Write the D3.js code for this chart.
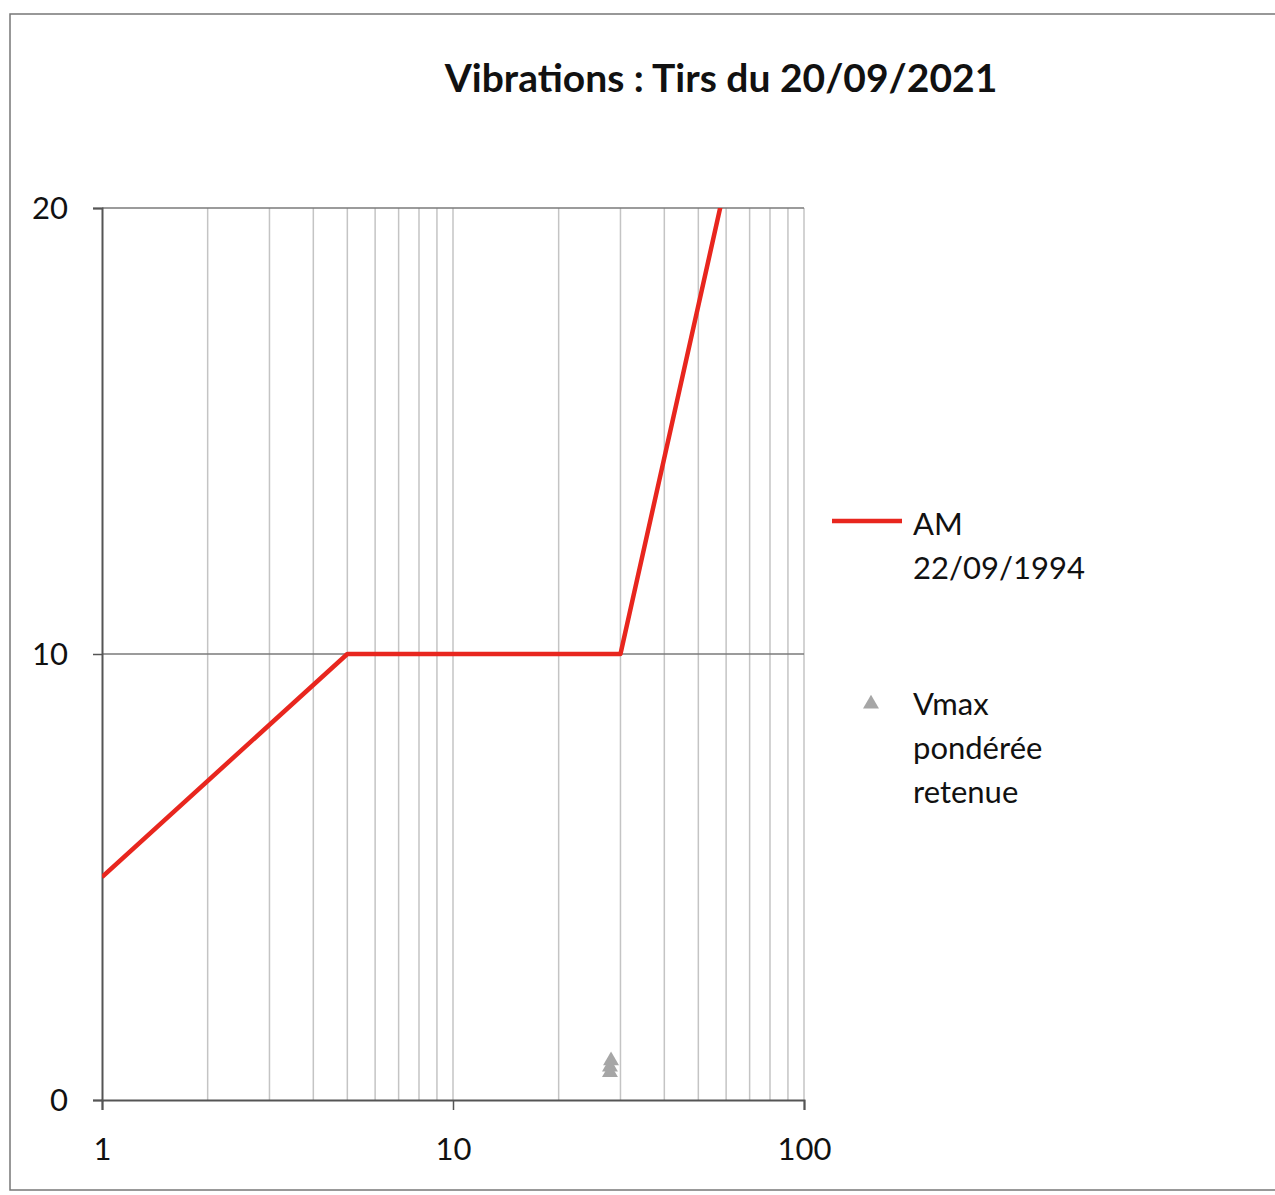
<!DOCTYPE html>
<html>
<head>
<meta charset="utf-8">
<script src="https://cdn.jsdelivr.net/npm/d3@7"></script>
<style>
  body { margin: 0; background: #fff; }
  text { font-family: Lato, "Open Sans", sans-serif; fill: #111; }
</style>
</head>
<body>
<svg id="chart" width="1275" height="1195"></svg>
<script>
// AM 22/09/1994 threshold curve
var amFreq = [1, 5, 30, 80];
var amVel = [5, 10, 10, 25];
// measured Vmax ponderee
var vmaxFreq = [28, 28, 28.2];
var vmaxVel = [0.62, 0.74, 0.88];
var xTicks = [1, 10, 100];
var yTicks = [0, 10, 20];
var legendLabels = [["AM", "22/09/1994"], ["Vmax", "pondérée", "retenue"]];

var
  plotLeft = 102,
  plotRight = 804,
  plotTop = 208,
  plotBottom = 1100,
  red = "#e8261e",
  grey = "#a6a6a6";

var svg = d3.select("#chart");

var x = d3.scaleLog().domain([1, 100]).range([plotLeft, plotRight]);
var y = d3.scaleLinear().domain([0, 20]).range([plotBottom, plotTop]);

// outer frame
svg.append("rect")
  .attr("x", 10).attr("y", 14)
  .attr("width", 1300).attr("height", 1176)
  .attr("fill", "none")
  .attr("stroke", "#777")
  .attr("stroke-width", 1.5);

svg.append("text")
  .attr("x", 721).attr("y", 92)
  .attr("text-anchor", "middle")
  .attr("font-size", 39)
  .attr("font-weight", "bold")
  .text("Vibrations : Tirs du 20/09/2021");

// vertical grid (log minor lines)
var minor = x.ticks().filter(function (d) { return d > 1; });
svg.append("g")
  .selectAll("line")
  .data(minor).enter()
  .append("line")
  .attr("x1", function (d) { return x(d); })
  .attr("x2", function (d) { return x(d); })
  .attr("y1", plotTop).attr("y2", plotBottom)
  .attr("stroke", "#c4c4c4")
  .attr("stroke-width", 1.5);

// horizontal grid
svg.append("g")
  .selectAll("line")
  .data(yTicks.filter(function (d) { return d > 0; })).enter()
  .append("line")
  .attr("x1", plotLeft).attr("x2", plotRight)
  .attr("y1", function (d) { return y(d); })
  .attr("y2", function (d) { return y(d); })
  .attr("stroke", "#7a7a7a")
  .attr("stroke-width", 1.5);

// axes
var yAxis = svg.append("g")
  .attr("transform", "translate(" + plotLeft + ",0)")
  .call(d3.axisLeft(y).tickValues(yTicks).tickSize(9).tickPadding(25).tickFormat(d3.format("d")));
var xAxis = svg.append("g")
  .attr("transform", "translate(0," + plotBottom + ")")
  .call(d3.axisBottom(x).tickValues(xTicks).tickSize(10).tickPadding(22).tickFormat(d3.format("d")));

[yAxis, xAxis].forEach(function (g) {
  g.select(".domain").attr("stroke", "#555").attr("stroke-width", 2);
  g.selectAll(".tick line").attr("stroke", "#555").attr("stroke-width", 1.5);
  g.selectAll("text")
    .attr("font-size", 31)
    .attr("font-family", "Lato, sans-serif")
    .attr("fill", "#111");
});
yAxis.selectAll("text").attr("dy", "0.35em");
xAxis.selectAll("text").attr("dy", "0.9em");

// clip the curve to the plot
svg.append("clipPath").attr("id", "plot")
  .append("rect")
  .attr("x", plotLeft).attr("y", plotTop)
  .attr("width", plotRight - plotLeft).attr("height", plotBottom - plotTop);

var line = d3.line()
  .x(function (d) { return x(d[0]); })
  .y(function (d) { return y(d[1]); });

svg.append("path")
  .datum(d3.zip(amFreq, amVel))
  .attr("clip-path", "url(#plot)")
  .attr("d", line)
  .attr("fill", "none")
  .attr("stroke", red)
  .attr("stroke-width", 4.5)
  .attr("stroke-linejoin", "round");

var tri = d3.symbol().type(d3.symbolTriangle).size(110);
svg.append("g")
  .selectAll("path")
  .data(d3.zip(vmaxFreq, vmaxVel)).enter()
  .append("path")
  .attr("transform", function (d) { return "translate(" + x(d[0]) + "," + y(d[1]) + ")"; })
  .attr("d", tri)
  .attr("fill", grey);

// legend
var legend = svg.append("g");
legend.append("line")
  .attr("x1", 832).attr("x2", 902)
  .attr("y1", 521).attr("y2", 521)
  .attr("stroke", red)
  .attr("stroke-width", 4.5);
legend.append("path")
  .attr("transform", "translate(871,704)")
  .attr("d", tri)
  .attr("fill", grey);

var legendTop = [535, 715];
legendLabels.forEach(function (lines, i) {
  lines.forEach(function (t, j) {
    legend.append("text")
      .attr("x", 913)
      .attr("y", legendTop[i] + j * 44)
      .attr("font-size", 31)
      .text(t);
  });
});
</script>
</body>
</html>
